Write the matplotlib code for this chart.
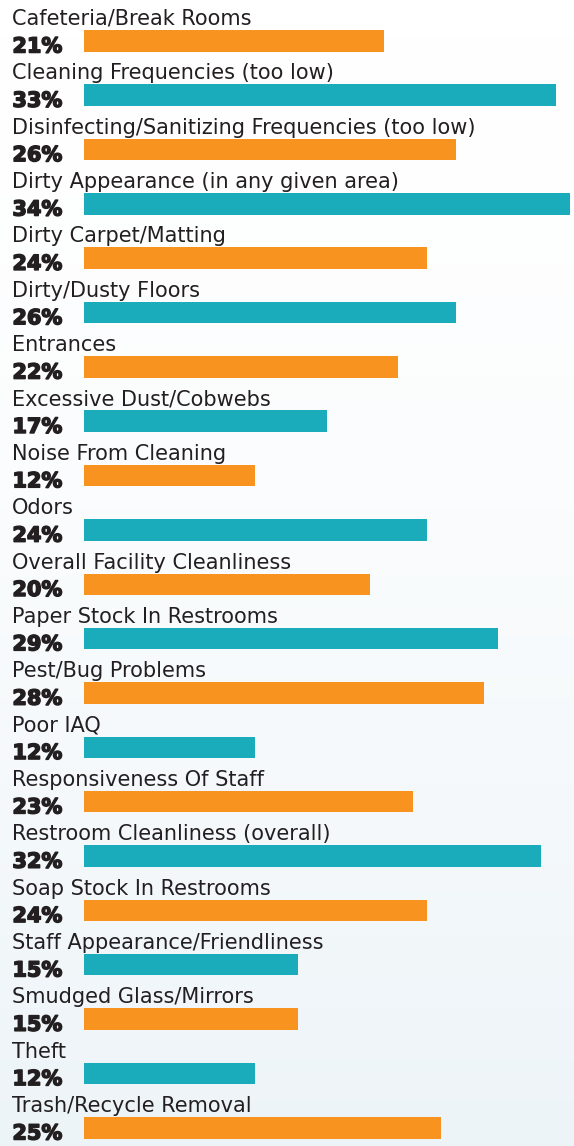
import matplotlib
matplotlib.use("Agg")
import matplotlib.pyplot as plt
import matplotlib.patheffects as pe
import numpy as np

categories = [
    "Cafeteria/Break Rooms",
    "Cleaning Frequencies (too low)",
    "Disinfecting/Sanitizing Frequencies (too low)",
    "Dirty Appearance (in any given area)",
    "Dirty Carpet/Matting",
    "Dirty/Dusty Floors",
    "Entrances",
    "Excessive Dust/Cobwebs",
    "Noise From Cleaning",
    "Odors",
    "Overall Facility Cleanliness",
    "Paper Stock In Restrooms",
    "Pest/Bug Problems",
    "Poor IAQ",
    "Responsiveness Of Staff",
    "Restroom Cleanliness (overall)",
    "Soap Stock In Restrooms",
    "Staff Appearance/Friendliness",
    "Smudged Glass/Mirrors",
    "Theft",
    "Trash/Recycle Removal",
]
percents = [21, 33, 26, 34, 24, 26, 22, 17, 12, 24, 20, 29, 28, 12, 23, 32, 24, 15, 15, 12, 25]

ORANGE = "#F7931E"
TEAL = "#1BACBB"
TEXT = "#231F20"

W, H = 574, 1146
fig = plt.figure(figsize=(W / 100, H / 100), dpi=100)

# soft white-to-blue backdrop
bg = fig.add_axes([0, 0, 1, 1])
grad = np.linspace(0, 1, 256).reshape(-1, 1) ** 1.6
bg.imshow(grad, aspect="auto", extent=[0, 1, 0, 1], origin="upper",
          cmap=matplotlib.colors.LinearSegmentedColormap.from_list("bgc", ["#FFFFFF", "#EDF4F8"]))
bg.axis("off")

ax = fig.add_axes([0, 0, 1, 1])
ax.patch.set_alpha(0)
ax.axis("off")

px_per_pct = 14.29
x0 = 84          # pixel where bars start
pitch = 54.35    # row spacing in pixels
top0 = 30        # top of first bar in pixels
bar_h = 21.5

ax.set_xlim(-x0 / px_per_pct, (W - x0) / px_per_pct)
ax.set_ylim(H / pitch, 0)

n = len(categories)
rows = np.arange(n)
centers = (top0 + bar_h / 2) / pitch + rows
colors = [ORANGE if i % 2 == 0 else TEAL for i in rows]
ax.barh(centers, percents, height=bar_h / pitch, color=colors, left=0)

heavy = [pe.withStroke(linewidth=1.1, foreground=TEXT)]
text_x = (12 - x0) / px_per_pct
for i, (cat, p) in enumerate(zip(categories, percents)):
    bar_top = centers[i] - bar_h / 2 / pitch
    bar_bot = centers[i] + bar_h / 2 / pitch
    ax.text(text_x, bar_top - 5 / pitch, cat, fontsize=15.0, color=TEXT,
            family="DejaVu Sans", va="baseline", ha="left")
    ax.text(text_x + 0.03, bar_bot + 1 / pitch, f"{p}%", fontsize=15, color=TEXT,
            family="DejaVu Sans", fontweight="bold", va="baseline", ha="left",
            path_effects=heavy)

fig.savefig("out.png", dpi=100)
